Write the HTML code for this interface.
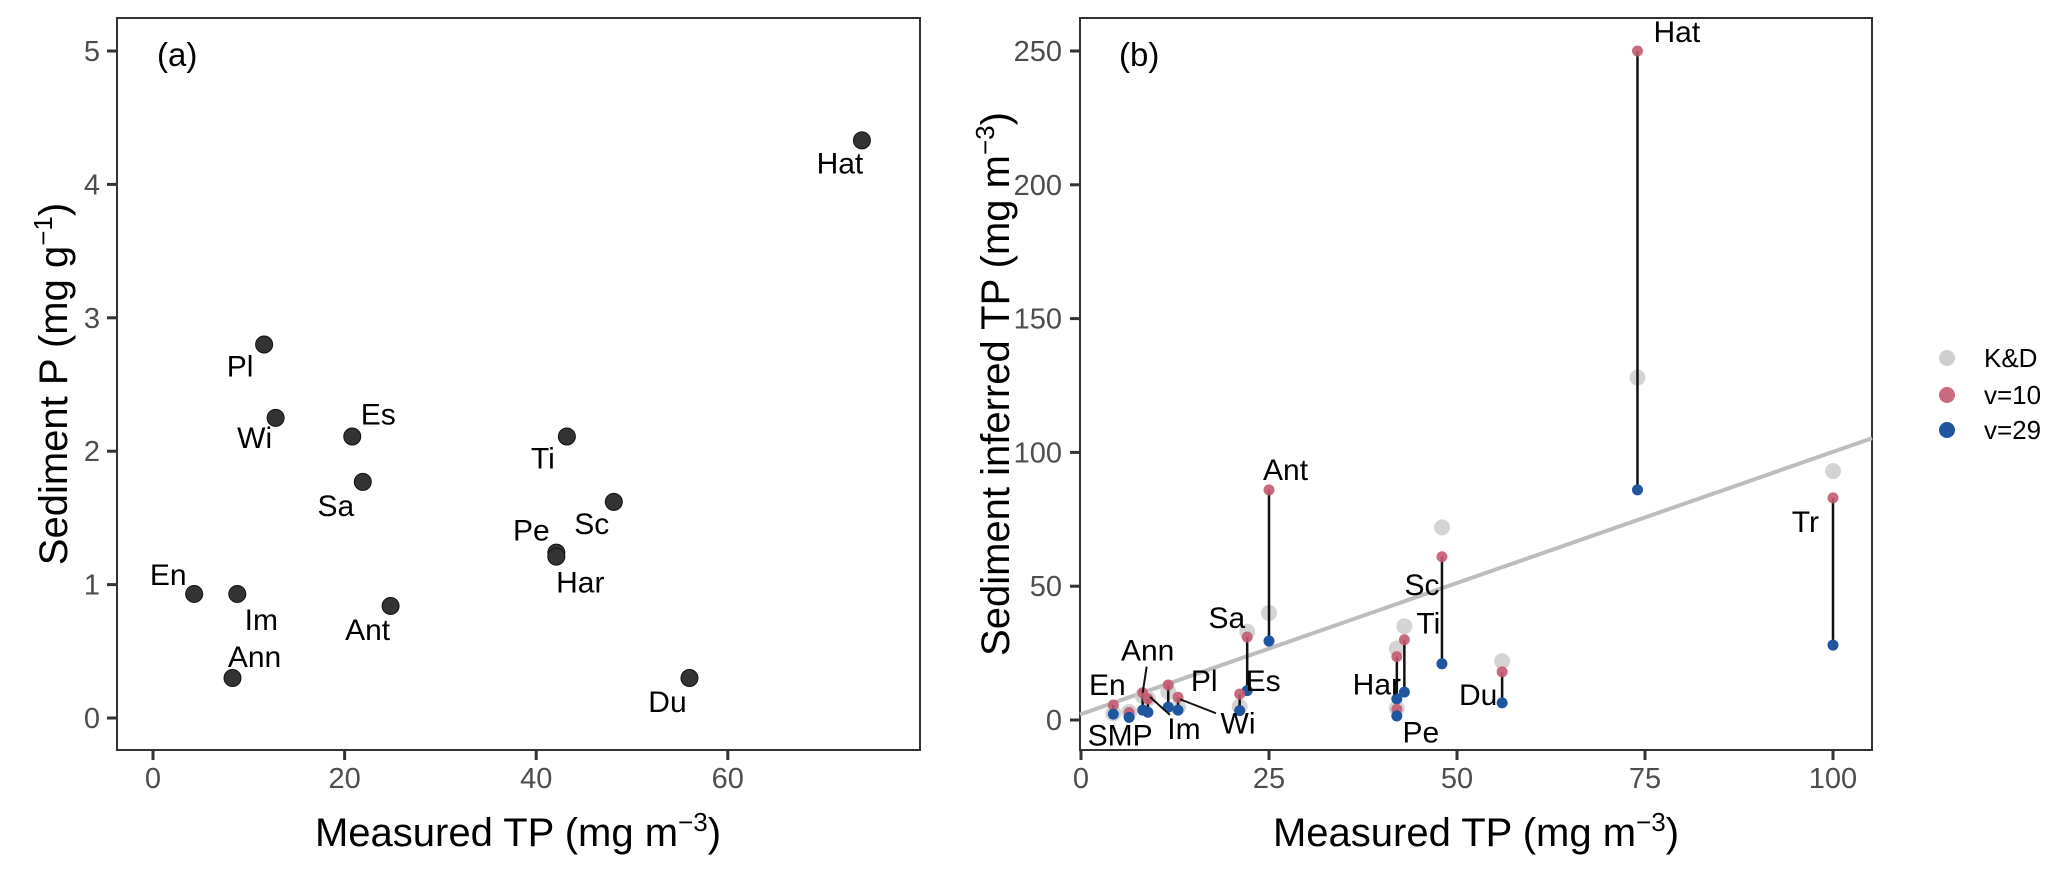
<!DOCTYPE html>
<html><head><meta charset="utf-8">
<style>
html,body{margin:0;padding:0;background:#fff;}
svg{display:block;font-family:"Liberation Sans",Arial,sans-serif;}
</style></head>
<body>
<svg id="fig" width="2067" height="872" viewBox="0 0 2067 872" xmlns="http://www.w3.org/2000/svg">
<g id="pa"></g>
<g id="pb"></g>
<g id="legend">
  <circle cx="1947" cy="358" r="8" fill="#cfcfcf"/>
  <text x="1984" y="367" font-size="26">K&amp;D</text>
  <circle cx="1947" cy="395" r="8" fill="#c45a70" fill-opacity="0.9"/>
  <text x="1984" y="404" font-size="26">v=10</text>
  <circle cx="1947" cy="430" r="8" fill="#1f56a0"/>
  <text x="1984" y="439" font-size="26">v=29</text>
</g>
</svg>
<script>
// ---- Panel (a) data ----
var aSites = ["Hat","Pl","Wi","Es","Sa","Ti","Sc","Pe","Har","En","Im","Ant","Ann","Du"];
var aTP    = [74, 11.6, 12.8, 20.8, 21.9, 43.2, 48.1, 42.1, 42.1, 4.3, 8.8, 24.8, 8.3, 56];
var aSedP  = [4.33, 2.80, 2.25, 2.11, 1.77, 2.11, 1.62, 1.24, 1.21, 0.93, 0.93, 0.84, 0.30, 0.30];
var aXTicks = [0, 20, 40, 60];
var aYTicks = [0, 1, 2, 3, 4, 5];
// ---- Panel (b) data ----
var bSites = ["Hat","Tr","Ant","Sa","Es","En","SMP","Ann","Im","Pl","Wi","Har","Pe","Ti","Sc","Du"];
var bTP    = [74, 100, 25, 22.1, 21.1, 4.3, 6.4, 8.2, 8.9, 11.6, 12.9, 42, 42, 43, 48, 56];
var bKD    = [128, 93, 40, 33, 5, 2.5, 3, 9, 8, 10.5, 4.8, 26.7, 4.4, 35, 72, 22];
var bV10   = [250, 83, 86, 31, 9.7, 5.6, 2.8, 10.2, 7.9, 13.1, 8.5, 23.7, 4, 30, 61, 18];
var bV29   = [86, 28, 29.5, 11, 3.5, 2.2, 1, 3.7, 2.9, 4.8, 3.7, 7.9, 1.5, 10.4, 21, 6.4];
var bXTicks = [0, 25, 50, 75, 100];
var bYTicks = [0, 50, 100, 150, 200, 250];
var trendIntercept = 2.2;
var trendSlope = 0.98;

var NS = "http://www.w3.org/2000/svg";
function mk(parent, tag, attrs, txt){
  var e = document.createElementNS(NS, tag);
  for (var k in attrs) e.setAttribute(k, attrs[k]);
  if (txt !== undefined) e.textContent = String(txt);
  parent.appendChild(e);
  return e;
}
function unitTitle(parent, attrs, main, sup){
  var t = mk(parent, 'text', attrs);
  mk(t, 'tspan', {}, main);
  mk(t, 'tspan', {dy:-15, 'font-size':26}, sup);
  mk(t, 'tspan', {dy:15}, ')');
  return t;
}
function ax(v){ return 153 + v * 9.58; }
function ay(v){ return 718 - v * 133.4; }
function bx(v){ return 1081 + v * 7.52; }
function by(v){ return 720 - v * 2.676; }
var TICK_FS = 29, LAB_FS = 30, TITLE_FS = 40;

// ---------- Panel A ----------
var pa = document.getElementById('pa');
var r = mk(pa, 'rect', {x:117, y:18, width:803, height:732, fill:'none', stroke:'#333', 'stroke-width':2});


aXTicks.forEach(function(t){
  var l = mk(pa, 'line', {x1:ax(t), x2:ax(t), y1:750, y2:760, stroke:'#333', 'stroke-width':3});
  
  
  var tx = mk(pa, 'text', {x:ax(t), y:788, 'font-size':TICK_FS, fill:'#4d4d4d', 'text-anchor':'middle'}, t);
  
  
});
aYTicks.forEach(function(t){
  var l = mk(pa, 'line', {x1:107, x2:117, y1:ay(t), y2:ay(t), stroke:'#333', 'stroke-width':3});
  
  
  var tx = mk(pa, 'text', {x:100, y:ay(t)+10, 'font-size':TICK_FS, fill:'#4d4d4d', 'text-anchor':'end'}, t);
  
  
});
var ta = mk(pa, 'text', {x:157, y:66, 'font-size':33}, '(a)');


var xta = unitTitle(pa, {x:518, y:846, 'font-size':TITLE_FS, 'text-anchor':'middle'}, 'Measured TP (mg m', '\u22123');


var yta = unitTitle(pa, {x:0, y:0, 'font-size':TITLE_FS, 'text-anchor':'middle', transform:'translate(67,384) rotate(-90)'}, 'Sediment P (mg g', '\u22121');


var aLabOff = {Hat:[-22,33],Pl:[-24,32],Wi:[-21,30],Es:[26,-12],Sa:[-27,34],Ti:[-24,32],Sc:[-22,32],Pe:[-25,-12],Har:[24,36],En:[-26,-9],Im:[24,36],Ant:[-23,34],Ann:[22,-11],Du:[-22,34]};
aSites.forEach(function(s, i){
  var c = mk(pa, 'circle', {cx:ax(aTP[i]), cy:ay(aSedP[i]), r:8.5, fill:'#333', stroke:'#111', 'stroke-width':1});
  
  
  var o = aLabOff[s] || [0,-14];
  var t = mk(pa, 'text', {x:ax(aTP[i])+o[0], y:ay(aSedP[i])+o[1], 'font-size':LAB_FS, 'text-anchor':'middle'}, s);
  
  
});

// ---------- Panel B ----------
var pb = document.getElementById('pb');
var rb = mk(pb, 'rect', {x:1080, y:18, width:792, height:732, fill:'none', stroke:'#333', 'stroke-width':2});


bXTicks.forEach(function(t){
  var l = mk(pb, 'line', {x1:bx(t), x2:bx(t), y1:750, y2:760, stroke:'#333', 'stroke-width':3});
  
  
  var tx = mk(pb, 'text', {x:bx(t), y:788, 'font-size':TICK_FS, fill:'#4d4d4d', 'text-anchor':'middle'}, t);
  
  
});
bYTicks.forEach(function(t){
  var l = mk(pb, 'line', {x1:1070, x2:1080, y1:by(t), y2:by(t), stroke:'#333', 'stroke-width':3});
  
  
  var tx = mk(pb, 'text', {x:1062, y:by(t)+10, 'font-size':TICK_FS, fill:'#4d4d4d', 'text-anchor':'end'}, t);
  
  
});
var tb = mk(pb, 'text', {x:1119, y:66, 'font-size':33}, '(b)');


var xtb = unitTitle(pb, {x:1476, y:846, 'font-size':TITLE_FS, 'text-anchor':'middle'}, 'Measured TP (mg m', '\u22123');


var ytb = unitTitle(pb, {x:0, y:0, 'font-size':TITLE_FS, 'text-anchor':'middle', transform:'translate(1009,384) rotate(-90)'}, 'Sediment inferred TP (mg m', '\u22123');


var xMinB = (1080 - 1081) / 7.52, xMaxB = (1872 - 1081) / 7.52;
var tl = mk(pb, 'line', {x1:bx(xMinB), y1:by(trendIntercept + trendSlope*xMinB), x2:bx(xMaxB), y2:by(trendIntercept + trendSlope*xMaxB), stroke:'#bdbdbd', 'stroke-width':4});


bSites.forEach(function(s, i){
  var c = mk(pb, 'circle', {cx:bx(bTP[i]), cy:by(bKD[i]), r:8, fill:'#cfcfcf', 'fill-opacity':0.9});
  
  
});
bSites.forEach(function(s, i){
  var l = mk(pb, 'line', {x1:bx(bTP[i]), x2:bx(bTP[i]), y1:by(bV10[i]), y2:by(bV29[i]), stroke:'#111', 'stroke-width':2.5});
  
  
});
bSites.forEach(function(s, i){
  var c = mk(pb, 'circle', {cx:bx(bTP[i]), cy:by(bV10[i]), r:5.5, fill:'#c45a70', 'fill-opacity':0.9});
  
  
  var d = mk(pb, 'circle', {cx:bx(bTP[i]), cy:by(bV29[i]), r:5.5, fill:'#1f56a0'});
  
  
});
var bLabOff = {Hat:[16,-9,'start'],Tr:[-14,34,'end'],Ant:[-6,-10,'start'],Sa:[-2,-9,'end'],Es:[6,-3,'start'],En:[-6,-10,'middle'],SMP:[-9,33,'middle'],Ann:[5,-32,'middle'],Im:[36,40,'middle'],Pl:[36,6,'middle'],Wi:[60,36,'middle'],Har:[-20,38,'middle'],Pe:[24,33,'middle'],Ti:[24,-6,'middle'],Sc:[-20,38,'middle'],Du:[-24,33,'middle']};
bSites.forEach(function(s, i){
  var o = bLabOff[s] || [0,-12,'middle'];
  var t = mk(pb, 'text', {x:bx(bTP[i])+o[0], y:by(bV10[i])+o[1], 'font-size':LAB_FS, 'text-anchor':o[2]}, s);
  
  
});
var leaders = {Ann:[[4,-26],[0,0]], Im:[[22,16],[2,-2]], Wi:[[38,16],[2,2]]};
Object.keys(leaders).forEach(function(s){
  var i = bSites.indexOf(s);
  var p = leaders[s];
  var x0 = bx(bTP[i]), y0 = by(bV10[i]);
  var l = mk(pb, 'line', {x1:x0+p[0][0], y1:y0+p[0][1], x2:x0+p[1][0], y2:y0+p[1][1], stroke:'#111', 'stroke-width':2});
  
  
});
</script>
</body></html>
